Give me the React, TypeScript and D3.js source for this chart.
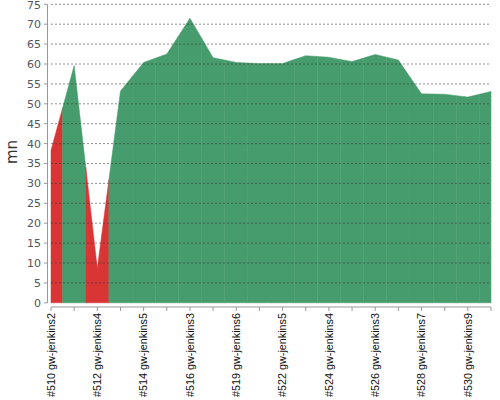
import React from "react";
import * as d3 from "d3";

const categories = [
  "#510 gw-jenkins2", "#511", "#512 gw-jenkins4", "#513", "#514 gw-jenkins5", "#515",
  "#516 gw-jenkins3", "#518", "#519 gw-jenkins6", "#521", "#522 gw-jenkins5", "#523",
  "#524 gw-jenkins4", "#525", "#526 gw-jenkins3", "#527", "#528 gw-jenkins7", "#529",
  "#530 gw-jenkins9", "#531",
];
const durations = [
  38.3, 59.6, 8.6, 53.2, 60.4, 62.5, 71.5, 61.6, 60.4, 60.1,
  60.1, 62.1, 61.7, 60.6, 62.4, 61.0, 52.5, 52.4, 51.7, 53.1,
];
const statuses = [
  "failed", "success", "failed", "success", "success", "success", "success", "success", "success", "success",
  "success", "success", "success", "success", "success", "success", "success", "success", "success", "success",
];
const yTicks = [0, 5, 10, 15, 20, 25, 30, 35, 40, 45, 50, 55, 60, 65, 70, 75];

const colors: Record<string, string> = { failed: "#d93535", success: "#469c6c" };

export default function App() {
  const W = 500, H = 400;
  const left = 51, right = 491, top = 4.3, bottom = 302.8;
  const x = d3.scalePoint<number>().domain(d3.range(categories.length)).range([left, right]);
  const y = d3.scaleLinear().domain([0, 75]).range([bottom, top]);
  const n = categories.length;

  const segs = durations.map((v, i) => {
    const pts: [number, number][] = [];
    const xi = x(i)!;
    if (i > 0) {
      const xm = (x(i - 1)! + xi) / 2;
      pts.push([xm, (durations[i - 1] + v) / 2]);
    }
    pts.push([xi, v]);
    if (i < n - 1) {
      const xm = (x(i + 1)! + xi) / 2;
      pts.push([xm, (durations[i + 1] + v) / 2]);
    }
    const area = d3.area<[number, number]>().x(d => d[0]).y0(y(0)).y1(d => y(d[1]));
    return { d: area(pts)!, c: colors[statuses[i]] };
  });

  const font = "DejaVu Sans, sans-serif";
  const lfont = "Liberation Sans, Arial, sans-serif";
  return (
    <svg width={W} height={H} style={{ position: "absolute", left: 0, top: 0, background: "#fff" }}>
      {segs.map((s, i) => (
        <path key={i} d={s.d} fill={s.c} stroke={s.c} strokeWidth={0.5} />
      ))}
      {yTicks.map(t => (
        <g key={t}>
          {t > 0 && (
            <line x1={left} x2={right} y1={y(t)} y2={y(t)} stroke="#333" strokeOpacity={0.55}
              strokeWidth={1} strokeDasharray="2,2" />
          )}
          <line x1={44} x2={47.5} y1={y(t)} y2={y(t)} stroke="#999" />
          <text x={41} y={y(t)} dy={t === 75 ? "0.42em" : "0.36em"} textAnchor="end" fontFamily={font} fontSize={11} fill="#555">{t}</text>
        </g>
      ))}
      <line x1={47.5} x2={47.5} y1={top} y2={bottom} stroke="#999" />
      <line x1={left} x2={right} y1={307} y2={307} stroke="#999" />
      {categories.map((c, i) => (
        <g key={i}>
          <line x1={x(i)} x2={x(i)} y1={307} y2={311} stroke="#999" />
          {i % 2 === 0 && (
            <text transform={`translate(${x(i)! + 3.8},313) rotate(-90)`} textAnchor="end"
              fontFamily={lfont} fontSize={10.8} fill="#111">{c}</text>
          )}
        </g>
      ))}
      <text transform="translate(17,152) rotate(-90)" textAnchor="middle" fontFamily={font}
        fontSize={15} fill="#333">mn</text>
    </svg>
  );
}
